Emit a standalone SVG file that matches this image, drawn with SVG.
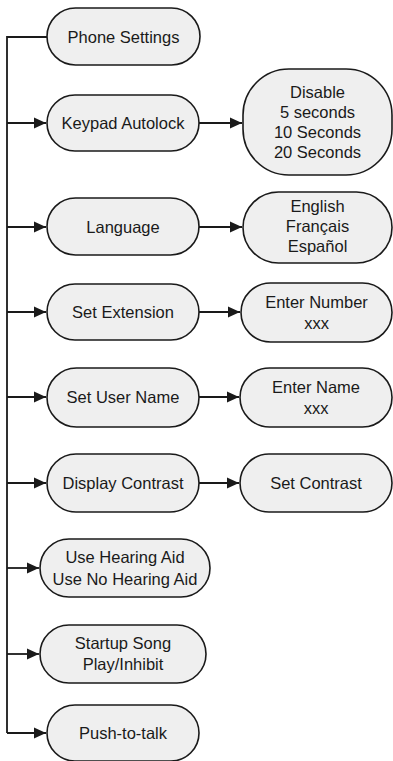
<svg xmlns="http://www.w3.org/2000/svg" width="393" height="761" viewBox="0 0 393 761">
<style>
.n{fill:#efefef;stroke:#1a1a1a;stroke-width:1.6}
.t{font-family:"Liberation Sans",Arial,sans-serif;font-size:16.5px;fill:#1a1a1a;text-anchor:middle}
.c{fill:none;stroke:#1a1a1a;stroke-width:1.8}
</style>
<defs>
<marker id="a" markerWidth="12" markerHeight="12" refX="12" refY="6" orient="auto" markerUnits="userSpaceOnUse">
<path d="M0,0.5 L12,6 L0,11.5 Z" fill="#1a1a1a"/>
</marker>
</defs>
<rect width="393" height="761" fill="#fff"/>
<g id="connectors">
<path class="c" d="M47,37 H7 V733"/>
<path class="c" d="M7,123 H46" marker-end="url(#a)"/>
<path class="c" d="M7,227 H46" marker-end="url(#a)"/>
<path class="c" d="M7,312 H46" marker-end="url(#a)"/>
<path class="c" d="M7,397 H46" marker-end="url(#a)"/>
<path class="c" d="M7,483 H46" marker-end="url(#a)"/>
<path class="c" d="M7,568 H39" marker-end="url(#a)"/>
<path class="c" d="M7,654 H39" marker-end="url(#a)"/>
<path class="c" d="M7,733 H46" marker-end="url(#a)"/>
<path class="c" d="M199,123 H242" marker-end="url(#a)"/>
<path class="c" d="M199,227 H242" marker-end="url(#a)"/>
<path class="c" d="M199,312 H240" marker-end="url(#a)"/>
<path class="c" d="M199,397 H239" marker-end="url(#a)"/>
<path class="c" d="M199,483 H239" marker-end="url(#a)"/>
</g>
<g id="phone-settings"><rect class="n" x="47" y="8" width="153" height="57" rx="28.5"/><text class="t" x="123.5" y="43">Phone Settings</text></g>
<g id="keypad-autolock"><rect class="n" x="47" y="95" width="152" height="56" rx="28"/><text class="t" x="123" y="129">Keypad Autolock</text></g>
<g id="autolock-options"><rect class="n" x="243" y="69" width="149" height="106" rx="46" ry="46"/><text class="t" x="317.5" y="98">Disable</text><text class="t" x="317.5" y="118">5 seconds</text><text class="t" x="317.5" y="138">10 Seconds</text><text class="t" x="317.5" y="158">20 Seconds</text></g>
<g id="language"><rect class="n" x="47" y="198" width="152" height="57" rx="28.5"/><text class="t" x="123" y="233">Language</text></g>
<g id="language-options"><rect class="n" x="243" y="192" width="149" height="71" rx="35.5"/><text class="t" x="317.5" y="212">English</text><text class="t" x="317.5" y="232">Français</text><text class="t" x="317.5" y="252">Español</text></g>
<g id="set-extension"><rect class="n" x="47" y="284" width="152" height="56" rx="28"/><text class="t" x="123" y="318">Set Extension</text></g>
<g id="enter-number"><rect class="n" x="241" y="283" width="151" height="59" rx="29.5"/><text class="t" x="316.5" y="308">Enter Number</text><text class="t" x="316.5" y="329">xxx</text></g>
<g id="set-user-name"><rect class="n" x="47" y="368" width="152" height="59" rx="29.5"/><text class="t" x="123" y="403">Set User Name</text></g>
<g id="enter-name"><rect class="n" x="240" y="368" width="152" height="59" rx="29.5"/><text class="t" x="316" y="393">Enter Name</text><text class="t" x="316" y="414">xxx</text></g>
<g id="display-contrast"><rect class="n" x="47" y="454" width="152" height="58" rx="29"/><text class="t" x="123" y="489">Display Contrast</text></g>
<g id="set-contrast"><rect class="n" x="240" y="454" width="152" height="58" rx="29"/><text class="t" x="316" y="489">Set Contrast</text></g>
<g id="hearing-aid"><rect class="n" x="40" y="539" width="170" height="58" rx="29"/><text class="t" x="125" y="563">Use Hearing Aid</text><text class="t" x="125" y="585">Use No Hearing Aid</text></g>
<g id="startup-song"><rect class="n" x="40" y="625" width="166" height="58" rx="29"/><text class="t" x="123" y="649">Startup Song</text><text class="t" x="123" y="670">Play/Inhibit</text></g>
<g id="push-to-talk"><rect class="n" x="47" y="705" width="152" height="56" rx="28"/><text class="t" x="123" y="739">Push-to-talk</text></g>
</svg>
